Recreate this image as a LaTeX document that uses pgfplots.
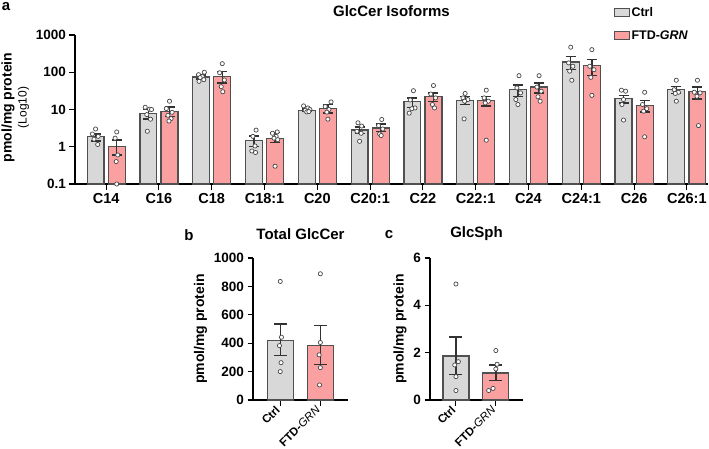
\documentclass[border=0pt]{standalone}
\usepackage{fontspec}
\setmainfont{Liberation Sans}
\usepackage{pgfplots}
\pgfplotsset{compat=1.18}
\definecolor{ctrlc}{RGB}{216,216,216}
\definecolor{ftdc}{RGB}{250,160,160}
\definecolor{edgec}{RGB}{80,80,80}
\definecolor{errc}{RGB}{50,50,50}
\definecolor{ptc}{RGB}{70,70,70}
\pgfplotsset{
  gp/.style={
    scale only axis,
    axis lines*=left,
    axis line style={line width=1.3pt, black, -},
    tick style={line width=1.1pt, black},
    tick align=outside,
    major tick length=5.5pt,
    clip=false,
    /pgf/number format/assume math mode=true,
    /pgf/number format/1000 sep={},
    tick label style={font=\bfseries\fontsize{13.5}{14}\selectfont},
    label style={font=\bfseries\fontsize{14}{15}\selectfont},
    title style={font=\bfseries\fontsize{15}{16}\selectfont, at={(0.5,1)}, anchor=center, yshift=18pt},
  },
  barc/.style={ybar, bar shift=0pt, fill=ctrlc, draw=edgec, line width=1.2pt},
  barf/.style={ybar, bar shift=0pt, fill=ftdc, draw=edgec, line width=1.2pt},
  errs/.style={error bars/.cd, y dir=both, y explicit,
    error bar style={draw=errc, line width=1.4pt},
    error mark options={draw=errc, rotate=90, mark size=#1, line width=1.4pt}},
  pts/.style={only marks, mark=*, mark size=2.1pt, mark options={fill=white, draw=ptc, line width=0.7pt}, forget plot},
}
\begin{document}
\begin{tikzpicture}
\useasboundingbox (0,0) rectangle (709pt,448pt);
% Panel a
\begin{axis}[gp, at={(75pt,264pt)}, anchor=south west, width=633pt, height=149pt,
  ymode=log, ymin=0.1, ymax=1000, log origin y=infty, yminorticks=false,
  ytick={0.1,1,10,100,1000}, yticklabels={0.1,1,10,100,1000},
  xmin=-0.59, xmax=11.4, xtick={0,...,11},
  xticklabels={C14,C16,C18,C18:1,C20,C20:1,C22,C22:1,C24,C24:1,C26,C26:1},
  xticklabel style={font=\bfseries\fontsize{14.5}{15}\selectfont},
  ylabel={pmol/mg protein\\[0pt]{\mdseries\fontsize{12}{13}\selectfont (Log10)}},
  ylabel style={align=center, xshift=2pt},
  title={GlcCer Isoforms},
  legend style={draw=none, fill=none, at={(0.846,1.215)}, anchor=north west,
    font=\bfseries\fontsize{12.5}{13}\selectfont, row sep=9pt,
    legend cell align=left},
  legend image code/.code={\draw[#1, line width=0.8pt] (0pt,-4pt) rectangle (15pt,4pt);},
]
\addplot[barc, bar width=0.32, errs=5pt] coordinates {
(-0.2,1.85) += (0,0.35) -= (0,0.43)
(0.8,7.7) += (0,2.3) -= (0,2.1)
(1.8,75) += (0,10) -= (0,9)
(2.8,1.48) += (0,0.45) -= (0,0.48)
(3.8,9.6) += (0,0.8) -= (0,0.8)
(4.8,2.8) += (0,0.6) -= (0,0.53)
(5.8,16) += (0,4.5) -= (0,4.5)
(6.8,17.8) += (0,4.2) -= (0,4.2)
(7.8,33.6) += (0,12.1) -= (0,10.9)
(8.8,189) += (0,76) -= (0,72)
(9.8,19.7) += (0,4.3) -= (0,4.7)
(10.8,34) += (0,8) -= (0,7)
};
\addlegendentry{Ctrl}
\addplot[barf, bar width=0.32, errs=5pt] coordinates {
(0.2,1.04) += (0,0.46) -= (0,0.44)
(1.2,9.0) += (0,2.8) -= (0,2.4)
(2.2,78) += (0,26) -= (0,26)
(3.2,1.7) += (0,0.67) -= (0,0.42)
(4.2,10.4) += (0,3.2) -= (0,2.3)
(5.2,3.2) += (0,0.85) -= (0,0.6)
(6.2,22) += (0,6) -= (0,5.3)
(7.2,17.4) += (0,5.3) -= (0,5.1)
(8.2,40) += (0,12) -= (0,12)
(9.2,150) += (0,68) -= (0,69)
(10.2,12.5) += (0,5) -= (0,4)
(11.2,30) += (0,10) -= (0,11)
};
\addlegendentry{FTD-\textit{GRN}}
\addplot[pts] coordinates {
(-0.20,3.0) (-0.26,2.2) (-0.15,1.9) (-0.23,1.6) (-0.16,1.15)
(0.74,11.5) (0.82,10.2) (0.86,10) (0.77,7.3) (0.84,5.5) (0.78,2.6)
(1.86,100) (1.75,86) (1.82,77) (1.78,72) (1.85,63) (1.76,57)
(2.84,2.8) (2.78,1.9) (2.82,1.05) (2.76,0.77) (2.83,0.70)
(3.74,12.5) (3.82,11) (3.86,10) (3.77,9.5) (3.80,8.6) (3.84,8.8)
(4.77,4.4) (4.84,3.6) (4.75,2.6) (4.83,2.3) (4.80,1.4)
(5.82,32) (5.76,18) (5.85,11) (5.79,10.5) (5.74,8)
(6.80,27) (6.76,20.5) (6.85,18.5) (6.79,16.7) (6.78,5.6)
(7.82,81) (7.78,38) (7.85,28) (7.76,18.5) (7.80,13.6)
(8.80,470) (8.76,178) (8.84,145) (8.78,107) (8.82,61)
(9.76,33) (9.84,31) (9.80,18.5) (9.77,13.6) (9.80,5.2)
(10.80,61) (10.76,34) (10.84,29) (10.78,27) (10.80,16.7)
};
\addplot[pts] coordinates {
(0.20,2.5) (0.17,1.7) (0.22,0.6) (0.19,0.4) (0.20,0.1)
(1.20,16.7) (1.14,10.6) (1.25,8.4) (1.17,7.0) (1.23,5.7) (1.19,4.9)
(2.20,170) (2.15,97) (2.24,62) (2.18,41) (2.21,30)
(3.24,2.5) (3.15,2.3) (3.22,1.9) (3.18,1.7) (3.25,1.55) (3.20,0.3)
(4.26,16) (4.15,12) (4.22,10) (4.18,8.5) (4.20,5.5)
(5.22,5.4) (5.16,3.7) (5.24,3.0) (5.18,2.2) (5.21,2.0)
(6.20,44) (6.15,26) (6.24,20.5) (6.18,13.6) (6.22,11)
(7.20,33) (7.16,20.5) (7.24,16.7) (7.18,15) (7.20,1.5)
(8.20,81) (8.16,40) (8.24,31) (8.18,22) (8.22,16.7)
(9.20,405) (9.16,145) (9.24,117) (9.18,73) (9.20,24)
(10.20,29) (10.16,13.6) (10.24,10.5) (10.18,9.0) (10.20,1.85)
(11.20,61) (11.14,29) (11.25,28) (11.19,22.7) (11.22,3.7)
};
\end{axis}
% Panel b
\begin{axis}[gp, at={(253pt,48pt)}, anchor=south west, width=95pt, height=142pt,
  ymin=0, ymax=1000, ytick={0,200,...,1000},
  xmin=-0.68, xmax=1.69, xtick={0,1}, xticklabels={Ctrl,FTD-{\mdseries\itshape GRN}},
  xticklabel style={rotate=45, anchor=east, font=\bfseries\fontsize{11.5}{12}\selectfont},
  ylabel={pmol/mg protein}, title={Total GlcCer},
]
\addplot[barc, bar width=0.65, errs=6.5pt] coordinates {(0,419) += (0,115) -= (0,106)};
\addplot[barf, bar width=0.65, errs=6.5pt] coordinates {(1,383) += (0,142) -= (0,131)};
\addplot[pts] coordinates {(0.0,835) (0.03,442) (-0.02,383) (0.02,263) (0.0,200)
 (1.0,889) (1.0,405) (0.97,318) (1.0,228) (0.98,106)};
\end{axis}
% Panel c
\begin{axis}[gp, at={(430pt,48pt)}, anchor=south west, width=93pt, height=142pt,
  ymin=0, ymax=6, ytick={0,2,4,6},
  xmin=-0.65, xmax=1.68, xtick={0,1}, xticklabels={Ctrl,FTD-{\mdseries\itshape GRN}},
  xticklabel style={rotate=45, anchor=east, font=\bfseries\fontsize{11.5}{12}\selectfont},
  ylabel={pmol/mg protein}, title={GlcSph},
]
\addplot[barc, bar width=0.65, errs=6.5pt] coordinates {(0,1.86) += (0,0.81) -= (0,0.77)};
\addplot[barf, bar width=0.65, errs=6.5pt] coordinates {(1,1.14) += (0,0.34) -= (0,0.31)};
\addplot[pts] coordinates {(0.0,4.9) (0.06,1.62) (-0.03,1.48) (0.0,0.99) (0.0,0.4)
 (1.0,2.09) (1.03,1.51) (1.0,1.31) (0.93,0.49) (0.82,0.4)};
\end{axis}
\node[font=\bfseries\fontsize{15}{16}\selectfont] at (6pt,441pt) {a};
\node[font=\bfseries\fontsize{15}{16}\selectfont] at (189pt,213pt) {b};
\node[font=\bfseries\fontsize{15}{16}\selectfont] at (389pt,213pt) {c};
\end{tikzpicture}
\end{document}
